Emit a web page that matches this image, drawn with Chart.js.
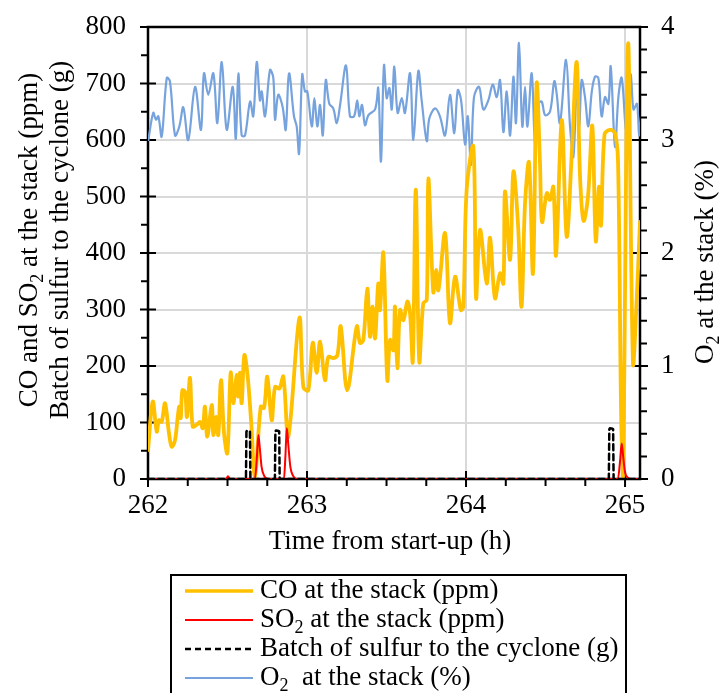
<!DOCTYPE html>
<html><head><meta charset="utf-8">
<script src="https://cdn.jsdelivr.net/npm/chart.js@4.4.0/dist/chart.umd.min.js"></script>
<style>html,body{margin:0;padding:0;background:#fff;}canvas{display:block;}</style>
</head><body>
<canvas id="c" width="726" height="693"></canvas>
<script>
// ---------- data ----------
const coHours = [262.000,262.030,262.055,262.069,262.086,262.107,262.132,262.149,262.170,262.187,262.197,262.206,262.216,262.233,262.245,262.264,262.281,262.306,262.327,262.344,262.358,262.373,262.401,262.411,262.428,262.442,262.459,262.478,262.499,262.520,262.536,262.558,262.568,262.579,262.589,262.606,262.627,262.648,262.673,262.709,262.730,262.750,262.778,262.799,262.826,262.851,262.882,262.952,262.977,263.008,263.036,263.061,263.082,263.113,263.134,263.165,263.191,263.212,263.253,263.313,263.333,263.354,263.379,263.396,263.413,263.428,263.448,263.459,263.480,263.505,263.522,263.543,263.553,263.568,263.585,263.606,263.631,263.648,263.665,263.684,263.706,263.731,263.753,263.763,263.794,263.811,263.826,263.868,263.899,263.931,263.967,263.983,264.004,264.046,264.063,264.088,264.130,264.151,264.182,264.214,264.235,264.245,264.277,264.298,264.327,264.349,264.371,264.396,264.421,264.444,264.465,264.478,264.508,264.528,264.549,264.566,264.602,264.633,264.665,264.696,264.717,264.739,264.767,264.794,264.816,264.836,264.849,264.871,264.906,264.937,264.956,264.975,264.987,265.019,265.050,265.072,265.094];
const coPpm = [51,137,84,104,101,134,81,57,69,110,128,108,157,154,110,179,93,96,101,90,128,75,131,78,110,78,175,81,46,188,134,184,146,188,134,219,181,104,5,128,126,181,104,163,160,181,75,285,163,157,241,188,243,175,216,214,219,270,157,270,241,246,337,252,305,249,346,299,400,175,246,228,305,196,299,281,314,293,208,512,208,311,317,532,331,370,334,435,276,358,299,305,512,588,320,441,346,427,320,364,346,509,388,544,450,305,488,560,364,700,560,455,506,494,517,396,635,429,576,738,535,457,500,625,421,517,449,610,618,612,560,120,2,770,205,310,455];

const so2Hours = [262.000,262.490,262.503,262.516,262.672,262.684,262.694,262.703,262.714,262.730,262.755,262.855,262.864,262.873,262.882,262.895,262.912,262.935,264.955,264.968,264.979,264.988,265.000,265.015,265.040,265.094];
const so2Ppm = [0,0,5,0,0,35,78,55,22,6,0,0,40,90,62,22,6,0,0,30,63,40,12,3,0,0];

const sulfurHours = [262.000,262.616,262.619,262.623,262.637,262.641,262.644,262.798,262.801,262.805,262.821,262.825,262.828,264.898,264.901,264.905,264.921,264.925,264.928,265.094];
const sulfurGrams = [0,0,84,86,85,84,0,0,84,86,85,84,0,0,88,90,89,88,0,0];

const o2Hours = [262.002,262.033,262.050,262.065,262.086,262.118,262.138,262.170,262.197,262.222,262.253,262.296,262.333,262.352,262.379,262.411,262.436,262.464,262.495,262.533,262.552,262.568,262.589,262.610,262.642,262.662,262.684,262.704,262.715,262.736,262.767,262.788,262.799,262.819,262.847,262.866,262.887,262.918,262.935,262.950,262.970,262.987,263.002,263.030,263.046,263.065,263.082,263.099,263.118,263.140,263.165,263.187,263.208,263.245,263.270,263.296,263.316,263.329,263.346,263.365,263.386,263.428,263.448,263.465,263.484,263.501,263.518,263.533,263.549,263.570,263.596,263.616,263.648,263.669,263.700,263.721,263.753,263.769,263.805,263.836,263.868,263.899,263.926,263.948,263.969,263.994,264.011,264.031,264.050,264.082,264.109,264.140,264.168,264.193,264.214,264.235,264.256,264.277,264.298,264.314,264.333,264.354,264.371,264.386,264.413,264.434,264.455,264.476,264.497,264.528,264.555,264.570,264.591,264.629,264.654,264.675,264.696,264.712,264.727,264.748,264.769,264.791,264.811,264.832,264.853,264.874,264.895,264.910,264.937,264.958,264.979,265.006,265.021,265.036,265.053,265.075,265.089,265.104];
const o2Pct = [3.00,3.24,3.18,3.21,3.03,3.55,3.52,3.04,3.12,3.29,3.00,3.47,3.09,3.59,3.40,3.59,3.15,3.69,3.09,3.47,3.01,3.59,3.04,3.04,3.34,3.21,3.69,3.35,3.43,3.21,3.62,3.55,3.18,3.40,3.29,3.09,3.59,3.21,3.12,2.88,3.58,3.43,3.43,3.12,3.37,3.12,3.31,3.04,3.53,3.32,3.28,3.15,3.31,3.66,3.21,3.21,3.35,3.21,3.31,3.13,3.22,3.27,3.46,2.81,3.66,3.37,3.46,3.27,3.65,3.24,3.37,3.24,3.59,3.00,3.61,3.35,2.99,3.19,3.28,3.21,3.04,3.40,3.06,3.44,3.35,2.96,3.21,2.78,3.38,3.47,3.27,3.35,3.49,3.38,3.53,3.07,3.43,3.04,3.56,3.15,3.86,3.12,3.47,3.12,3.59,2.97,3.32,3.34,3.22,3.25,3.52,3.41,3.15,3.71,3.12,2.85,3.47,3.12,3.53,3.38,3.12,3.43,3.56,3.55,3.21,3.38,3.32,3.65,2.94,3.38,3.55,3.09,3.47,3.58,3.27,3.32,3.04,3.27];

const xTicks = [262, 263, 264, 265];
const leftTicks = [0, 100, 200, 300, 400, 500, 600, 700, 800];
const rightTicks = [0, 1, 2, 3, 4];
const xMin = 262, xMax = 265.094;

// ---------- styles ----------
const FONT = '"Liberation Serif", "Times New Roman", Times, serif';
const FS = 27;
const COLORS = { co: '#ffc000', so2: '#ff0000', sulfur: '#000000', o2: '#76a3dd' };

const zip = (xs, ys) => xs.map((x, i) => ({ x: x, y: ys[i] }));

function richWidth(ctx, parts, size) {
  let w = 0;
  for (const p of parts) {
    ctx.font = (p.sub ? Math.round(size * 0.65) : size) + 'px ' + FONT;
    w += ctx.measureText(p.t).width;
  }
  return w;
}
function drawRich(ctx, parts, x, y, size, align) {
  const w = richWidth(ctx, parts, size);
  let cx = align === 'center' ? x - w / 2 : x;
  ctx.textBaseline = 'middle';
  ctx.textAlign = 'left';
  for (const p of parts) {
    const s = p.sub ? Math.round(size * 0.65) : size;
    ctx.font = s + 'px ' + FONT;
    ctx.fillText(p.t, cx, p.sub ? y + size * 0.3 : y);
    cx += ctx.measureText(p.t).width;
  }
}

const framePlugin = {
  id: 'frame',
  beforeDatasetsDraw(chart) {
    const ctx = chart.ctx, a = chart.chartArea;
    const sx = chart.scales.x, sy = chart.scales.y, sy2 = chart.scales.y2;
    ctx.save();
    ctx.strokeStyle = '#000';
    ctx.lineWidth = 2.5;
    ctx.strokeRect(a.left, a.top, a.right - a.left, a.bottom - a.top);
    ctx.lineWidth = 2;
    ctx.beginPath();
    for (const v of leftTicks) {
      const p = sy.getPixelForValue(v);
      ctx.moveTo(a.left - 8, p); ctx.lineTo(a.left + 8, p);
    }
    for (let i = 0; i < leftTicks.length - 1; i++) {
      const p = sy.getPixelForValue((leftTicks[i] + leftTicks[i + 1]) / 2);
      ctx.moveTo(a.left - 7, p); ctx.lineTo(a.left, p);
    }
    for (const v of rightTicks) {
      const p = sy2.getPixelForValue(v);
      ctx.moveTo(a.right - 8, p); ctx.lineTo(a.right + 8, p);
    }
    for (let i = 0; i < rightTicks.length - 1; i++) {
      for (let k = 1; k < 5; k++) {
        const p = sy2.getPixelForValue(rightTicks[i] + k * (rightTicks[i + 1] - rightTicks[i]) / 5);
        ctx.moveTo(a.right, p); ctx.lineTo(a.right + 7, p);
      }
    }
    for (const v of xTicks) {
      const p = sx.getPixelForValue(v);
      ctx.moveTo(p, a.bottom - 8); ctx.lineTo(p, a.bottom + 8);
    }
    for (let i = 0; i < xTicks.length - 1; i++) {
      for (let k = 1; k < 4; k++) {
        const p = sx.getPixelForValue(xTicks[i] + k * (xTicks[i + 1] - xTicks[i]) / 4);
        ctx.moveTo(p, a.bottom); ctx.lineTo(p, a.bottom + 7);
      }
    }
    ctx.stroke();
    ctx.restore();
  },
  afterDraw(chart) {
    const ctx = chart.ctx;
    ctx.save();
    ctx.fillStyle = '#000';
    // left titles
    ctx.save();
    ctx.translate(30, 240); ctx.rotate(-Math.PI / 2);
    drawRich(ctx, [{ t: 'CO and SO' }, { t: '2', sub: true }, { t: ' at the stack (ppm)' }], 0, 0, FS, 'center');
    ctx.restore();
    ctx.save();
    ctx.translate(61, 240); ctx.rotate(-Math.PI / 2);
    drawRich(ctx, [{ t: 'Batch of sulfur to the cyclone (g)' }], 0, 0, FS, 'center');
    ctx.restore();
    // right title
    ctx.save();
    ctx.translate(706, 262); ctx.rotate(-Math.PI / 2);
    drawRich(ctx, [{ t: 'O' }, { t: '2', sub: true }, { t: ' at the stack (%)' }], 0, 0, FS, 'center');
    ctx.restore();
    // x title
    drawRich(ctx, [{ t: 'Time from start-up (h)' }], 390, 542, FS, 'center');

    // legend
    ctx.strokeStyle = '#000'; ctx.lineWidth = 2;
    ctx.strokeRect(171, 575, 455, 140);
    const rows = [
      { parts: [{ t: 'CO at the stack (ppm)' }], color: COLORS.co, w: 3.5, dash: [] },
      { parts: [{ t: 'SO' }, { t: '2', sub: true }, { t: ' at the stack (ppm)' }], color: COLORS.so2, w: 2, dash: [] },
      { parts: [{ t: 'Batch of sulfur to the cyclone (g)' }], color: COLORS.sulfur, w: 2.5, dash: [6, 4] },
      { parts: [{ t: 'O' }, { t: '2', sub: true }, { t: '  at the stack (%)' }], color: COLORS.o2, w: 2, dash: [] }
    ];
    rows.forEach((r, i) => {
      const yy = 591 + i * 29;
      ctx.save();
      ctx.strokeStyle = r.color; ctx.lineWidth = r.w; ctx.setLineDash(r.dash);
      ctx.beginPath(); ctx.moveTo(185, yy); ctx.lineTo(253, yy); ctx.stroke();
      ctx.restore();
      ctx.fillStyle = '#000';
      drawRich(ctx, r.parts, 260, yy, FS, 'left');
    });
    ctx.restore();
  }
};

const tickFont = { family: FONT, size: FS };

new Chart(document.getElementById('c').getContext('2d'), {
  type: 'line',
  data: {
    datasets: [
      { label: 'Batch of sulfur to the cyclone (g)', data: zip(sulfurHours, sulfurGrams), borderColor: COLORS.sulfur, borderWidth: 2.5, borderDash: [6, 4], tension: 0, yAxisID: 'y' },
      { label: 'SO2 at the stack (ppm)', data: zip(so2Hours, so2Ppm), borderColor: COLORS.so2, borderWidth: 2, cubicInterpolationMode: 'monotone', yAxisID: 'y' },
      { label: 'CO at the stack (ppm)', data: zip(coHours, coPpm), borderColor: COLORS.co, borderWidth: 3.8, tension: 0.35, yAxisID: 'y' },
      { label: 'O2 at the stack (%)', data: zip(o2Hours, o2Pct), borderColor: COLORS.o2, borderWidth: 2.2, tension: 0.35, yAxisID: 'y2' }
    ]
  },
  options: {
    responsive: false,
    animation: false,
    layout: { autoPadding: false, padding: { top: 27, left: 0, right: 0, bottom: 0 } },
    plugins: { legend: { display: false }, tooltip: { enabled: false }, title: { display: false } },
    elements: { point: { radius: 0 }, line: { borderCapStyle: 'round', borderJoinStyle: 'round' } },
    scales: {
      x: {
        type: 'linear', min: xMin, max: xMax,
        afterBuildTicks: s => { s.ticks = xTicks.map(v => ({ value: v })); },
        afterFit: s => { s.height = 214; s.paddingLeft = 0; s.paddingRight = 0; },
        grid: { color: '#d9d9d9', lineWidth: 2, drawTicks: false },
        border: { display: false },
        ticks: { font: tickFont, color: '#000', padding: 11, maxRotation: 0, autoSkip: false, callback: v => String(v) }
      },
      y: {
        type: 'linear', position: 'left', min: 0, max: 800,
        afterBuildTicks: s => { s.ticks = leftTicks.map(v => ({ value: v })); },
        afterFit: s => { s.width = 148; s.paddingTop = 0; s.paddingBottom = 0; },
        grid: { color: '#d9d9d9', lineWidth: 2, drawTicks: false },
        border: { display: false },
        ticks: { font: tickFont, color: '#000', padding: 22, callback: v => String(v) }
      },
      y2: {
        type: 'linear', position: 'right', min: 0, max: 4,
        afterBuildTicks: s => { s.ticks = rightTicks.map(v => ({ value: v })); },
        afterFit: s => { s.width = 86; s.paddingTop = 0; s.paddingBottom = 0; },
        grid: { display: false, drawTicks: false },
        border: { display: false },
        ticks: { font: tickFont, color: '#000', padding: 21, callback: v => String(v) }
      }
    }
  },
  plugins: [framePlugin]
});
</script>
</body></html>
